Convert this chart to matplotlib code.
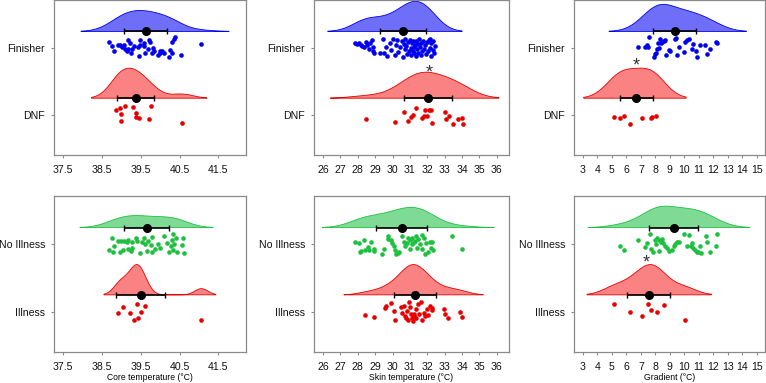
import numpy as np
import matplotlib.pyplot as plt

plt.rcParams['font.family'] = ['Liberation Sans', 'DejaVu Sans']

# ---- top row: Finisher vs DNF ----
core_fin = [38.68, 38.75, 38.81, 38.90, 38.96, 39.02, 39.07, 39.09, 39.13, 39.18, 39.18, 39.21,
            39.24, 39.28, 39.33, 39.42, 39.45, 39.47, 39.48, 39.57, 39.59, 39.61, 39.68, 39.70,
            39.74, 39.78, 39.82, 39.83, 39.95, 39.99, 40.00, 40.04, 40.09, 40.23, 40.26, 40.30,
            40.31, 40.35, 40.37, 40.54, 41.05]
core_fin_jit = [0.09, 0.03, -0.04, 0.04, 0.05, 0.01, 0.04, -0.02, -0.04, 0.12, -0.01, 0.07,
                -0.07, -0.01, 0.03, 0.02, -0.12, 0.12, 0.05, 0.08, 0.03, -0.07, -0.01, 0.12,
                0.09, -0.08, 0.00, -0.05, -0.10, -0.04, -0.07, -0.05, -0.08, -0.13, -0.03, -0.08,
                0.09, 0.13, 0.16, -0.10, 0.06]
core_dnf = [38.87, 38.96, 38.98, 39.09, 39.00, 39.30, 39.38, 39.38, 39.44, 39.70, 39.77, 40.56]
core_dnf_jit = [0.07, 0.11, 0.01, 0.13, -0.09, 0.12, 0.03, -0.03, -0.05, -0.06, 0.13, -0.12]

skin_fin = [27.83, 27.96, 28.08, 28.16, 28.27, 28.35, 28.50, 28.54, 28.65, 28.73, 28.79, 28.85,
            28.89, 28.96, 29.27,
            29.47, 29.52, 29.60, 29.68, 29.83, 29.90, 30.05, 30.12, 30.20, 30.27, 30.31, 30.40,
            30.52, 30.58, 30.63, 30.70, 30.74, 30.80, 30.85, 30.90, 30.96, 31.00, 31.04, 31.08,
            31.11, 31.15, 31.18, 31.22, 31.26, 31.30, 31.33, 31.37, 31.41, 31.44, 31.49, 31.53,
            31.58, 31.62, 31.66, 31.71, 31.75, 31.80, 31.86, 31.90, 31.96, 32.02, 32.08, 32.13,
            32.19, 32.24, 32.30, 32.35, 32.40, 32.44, 32.18]
skin_fin_jit = [0.07, 0.06, 0.08, 0.05, 0.03, 0.01, 0.09, 0.04, -0.01, 0.07, 0.12, -0.04,
                0.02, -0.08, -0.08,
                0.13, -0.07, 0.02, -0.12, 0.08, -0.03, 0.13, -0.10, 0.05, 0.12, -0.06, 0.01,
                0.10, -0.13, 0.06, -0.02, 0.13, 0.03, -0.09, 0.09, -0.04, 0.12, 0.00, -0.11,
                0.07, -0.05, 0.10, 0.02, -0.08, 0.05, -0.12, 0.11, -0.02, 0.06, -0.07, 0.13,
                0.01, -0.10, 0.08, -0.04, 0.11, -0.01, 0.05, -0.09, 0.09, -0.05, 0.12, 0.00,
                -0.12, 0.07, -0.03, 0.10, -0.08, 0.03, 0.13]
skin_dnf = [28.50, 30.14, 30.66, 30.91, 31.04, 31.19, 31.35, 31.67, 31.81, 31.87, 32.00, 32.08,
            32.19, 32.27, 33.02, 33.08, 33.23, 33.46, 33.79, 34.00, 34.04]
skin_dnf_jit = [-0.06, -0.10, 0.04, -0.09, -0.03, 0.00, 0.10, -0.04, -0.02, 0.08, -0.02, 0.08,
                0.08, -0.12, 0.05, -0.06, -0.02, -0.13, -0.06, -0.04, -0.14]

grad_fin = [6.81, 7.27, 7.43, 7.50, 7.57, 7.89, 7.99, 8.03, 8.08, 8.17, 8.22, 8.31, 8.40, 8.49,
            8.59, 8.68, 8.72, 8.96, 9.00, 9.33, 9.39, 9.46, 9.65, 9.97, 10.02, 10.16, 10.34,
            10.50, 10.62, 10.80, 10.85, 11.08, 11.45, 11.59, 11.77, 12.19, 12.28]
grad_fin_jit = [0.02, 0.02, 0.04, 0.01, 0.16, -0.13, -0.09, -0.08, -0.01, 0.07, 0.00, 0.13,
                0.07, 0.09, 0.11, 0.12, -0.10, -0.03, -0.04, 0.13, 0.15, -0.10, 0.02, -0.06,
                0.09, 0.12, 0.13, -0.01, 0.06, -0.04, -0.13, 0.05, 0.04, -0.09, -0.01, 0.09, 0.08]
grad_dnf = [5.12, 5.55, 5.82, 6.28, 7.11, 7.72, 7.80, 8.05]
grad_dnf_jit = [-0.03, -0.05, -0.02, -0.14, -0.04, -0.05, -0.03, -0.01]

# ---- bottom row: No Illness vs Illness ----
core_well = [38.75, 38.69, 38.79, 38.81, 38.92, 38.95, 38.98, 39.05, 39.07, 39.14, 39.17, 39.18,
             39.25, 39.27, 39.28, 39.37, 39.39, 39.48, 39.52, 39.58, 39.61, 39.65, 39.68, 39.76,
             39.78, 39.79, 39.87, 39.95, 40.00, 40.10, 40.17, 40.23, 40.30, 40.28, 40.32, 40.34,
             40.36, 40.40, 40.44, 40.55, 40.58, 40.60]
core_well_jit = [0.09, -0.08, -0.12, -0.02, 0.05, -0.11, 0.05, -0.08, 0.05, 0.03, 0.07, -0.07,
                 -0.10, 0.03, -0.05, 0.09, 0.05, -0.13, 0.03, 0.09, 0.01, -0.10, 0.05, -0.01,
                 -0.12, 0.11, -0.07, 0.01, -0.05, 0.12, 0.02, -0.12, 0.07, -0.02, -0.08, 0.15,
                 0.01, 0.09, -0.12, -0.01, 0.09, -0.13]
core_ill = [38.92, 39.03, 39.22, 39.32, 39.39, 39.43, 39.50, 39.60, 41.06]
core_ill_jit = [-0.02, 0.07, -0.02, -0.12, 0.12, -0.10, 0.00, 0.08, -0.12]

skin_well = [27.83, 28.06, 28.33, 28.10, 28.21, 28.44, 28.56, 28.64, 28.75, 28.91, 28.94, 29.37,
             29.48, 29.71, 29.75, 29.91, 29.94, 30.06, 30.14, 30.18, 30.33, 30.37, 30.52, 30.64,
             30.71, 30.83, 30.91, 30.98, 31.02, 31.10, 31.14, 31.21, 31.29, 31.33, 31.41, 31.48,
             31.60, 31.68, 31.71, 31.79, 31.87, 31.94, 32.06, 32.14, 32.21, 32.29, 32.33, 33.44,
             33.98]
skin_well_jit = [0.04, 0.02, 0.07, -0.11, -0.10, -0.08, -0.04, -0.09, 0.03, -0.07, -0.10, -0.14,
                 -0.07, 0.13, 0.08, 0.06, 0.02, -0.02, -0.08, -0.14, -0.13, -0.12, 0.12, 0.04,
                 -0.02, 0.02, 0.10, 0.06, -0.07, 0.09, 0.00, 0.03, 0.05, 0.13, -0.05, 0.08,
                 0.01, 0.14, -0.07, 0.09, -0.14, 0.02, -0.11, 0.03, -0.05, 0.04, -0.09, 0.13,
                 -0.07]
skin_ill = [28.44, 28.91, 29.56, 29.60, 29.91, 30.06, 30.14, 30.48, 30.56, 30.64, 30.71, 30.79,
            30.83, 30.91, 30.94, 31.02, 31.06, 31.10, 31.18, 31.21, 31.25, 31.33, 31.37, 31.44,
            31.52, 31.64, 31.68, 31.79, 31.87, 31.98, 32.06, 32.18, 32.25, 32.29, 32.98, 33.02,
            33.21, 33.87, 33.98]
skin_ill_jit = [-0.05, -0.08, 0.05, 0.08, 0.13, 0.01, -0.13, 0.07, -0.02, 0.09, -0.06, -0.09,
                0.01, -0.12, 0.14, 0.07, -0.04, -0.09, -0.14, -0.03, -0.06, -0.10, 0.04, 0.11,
                -0.04, 0.14, -0.13, -0.02, -0.07, 0.04, -0.05, 0.09, 0.02, 0.06, 0.04, -0.03,
                -0.10, 0.00, -0.08]

grad_well = [5.59, 5.82, 6.79, 7.25, 7.43, 7.62, 7.71, 7.85, 7.94, 8.03, 8.08, 8.22, 8.26, 8.36,
             8.45, 8.54, 8.63, 8.77, 8.91, 9.14, 9.28, 9.37, 9.46, 9.60, 9.97, 10.20, 10.30,
             10.43, 10.53, 10.62, 10.76, 10.85, 10.94, 11.08, 11.13, 11.50, 11.59, 11.77, 12.19,
             12.28]
grad_well_jit = [-0.02, -0.09, 0.07, -0.04, 0.02, 0.15, -0.07, -0.11, 0.07, 0.00, 0.09, -0.10,
                 0.07, 0.03, 0.08, 0.02, -0.02, -0.06, -0.10, -0.08, -0.02, 0.01, 0.03, 0.04,
                 0.15, -0.02, 0.14, -0.02, 0.02, -0.05, -0.08, -0.12, -0.11, -0.03, -0.13, 0.13,
                 0.03, -0.12, -0.03, 0.15]
grad_ill = [5.12, 6.28, 7.06, 7.50, 7.73, 8.08, 8.61, 10.04]
grad_ill_jit = [0.12, -0.01, -0.07, 0.12, 0.02, 0.00, 0.10, -0.13]

core_ticks = [37.5, 38.5, 39.5, 40.5, 41.5]
skin_ticks = list(range(26, 37))
grad_ticks = list(range(3, 16))

# significance stars (x, y)
skin_top_star = (32.1, 1.69)
grad_top_star = (6.70, 1.80)
grad_bot_star = (7.38, 1.78)

BLUE, RED, GREEN = '#0000f0', '#e60000', '#1ec040'
BLUE_F, RED_F, GREEN_F = '#6e6ef8', '#fa8282', '#7fda96'


def nrd0(x):
    sd = np.std(x, ddof=1)
    iqr = np.percentile(x, 75) - np.percentile(x, 25)
    return 0.9 * min(sd, iqr / 1.34) * len(x) ** -0.2


def kde(x, adjust=1.4, cut=2.2):
    x = np.asarray(x)
    bw = nrd0(x) * adjust
    grid = np.linspace(x.min() - cut * bw, x.max() + cut * bw, 512)
    d = np.exp(-0.5 * ((grid[:, None] - x[None, :]) / bw) ** 2).sum(1)
    return grid, d / (len(x) * bw * np.sqrt(2 * np.pi))


def rain(ax, groups):
    dens = [kde(g[0]) for g in groups]
    top = max(d.max() for _, d in dens)
    for pos, (vals, jit, col, fill), (g, d) in zip([2, 1], groups, dens):
        base = pos + 0.25
        h = base + d / top * 0.45
        ax.fill(np.r_[g, g[::-1]], np.r_[h, np.full(len(g), base)],
                facecolor=fill, edgecolor=col, lw=0.6, zorder=1)
        ax.scatter(vals, pos + np.array(jit), s=11, color=col, lw=0, zorder=2)
        m, s = np.mean(vals), np.std(vals, ddof=1)
        ax.errorbar(m, base, xerr=s, fmt='o', color='black', ms=5.5, lw=1.2,
                    capsize=2.2, capthick=1, zorder=3)


def star(ax, xy):
    ax.annotate('*', xy, xytext=(0, -3), textcoords='offset points', fontsize=13,
                ha='center', va='center', color='#333333')


def style(ax, ticks, labels, xlim):
    ax.set_xlim(*xlim)
    ax.set_ylim(0.4, 2.72)
    ax.set_xticks(ticks)
    ax.set_xticklabels([f'{t:g}' for t in ticks])
    ax.set_yticks([1, 2])
    ax.set_yticklabels(labels)
    for sp in ax.spines.values():
        sp.set_color('#8a8a8a')
        sp.set_linewidth(0.9)
    ax.tick_params(axis='both', length=2.5, width=0.8, color='#8a8a8a',
                   labelsize=7.6, labelcolor='#111111')
    ax.tick_params(axis='x', pad=5)
    ax.tick_params(axis='y', pad=4)


fig = plt.figure(figsize=(7.66, 3.83), dpi=100)
lefts = [54 / 766, 314 / 766, 574 / 766]
widths = [192 / 766, 195 / 766, 191 / 766]
top_b, top_h = 1 - 155 / 383, 155 / 383
bot_b, bot_h = 1 - 352 / 383, 156 / 383

xlims = [(37.26, 42.21), (25.48, 36.7), (2.38, 15.57)]
ticks = [core_ticks, skin_ticks, grad_ticks]
top_data = [(core_fin, core_fin_jit, core_dnf, core_dnf_jit),
            (skin_fin, skin_fin_jit, skin_dnf, skin_dnf_jit),
            (grad_fin, grad_fin_jit, grad_dnf, grad_dnf_jit)]
bot_data = [(core_well, core_well_jit, core_ill, core_ill_jit),
            (skin_well, skin_well_jit, skin_ill, skin_ill_jit),
            (grad_well, grad_well_jit, grad_ill, grad_ill_jit)]
xlabels = ['Core temperature (\u00b0C)', 'Skin temperature (\u00b0C)', 'Gradient (\u00b0C)']

for i in range(3):
    ax = fig.add_axes([lefts[i], top_b, widths[i], top_h])
    a, aj, b, bj = top_data[i]
    rain(ax, [(a, aj, BLUE, BLUE_F), (b, bj, RED, RED_F)])
    style(ax, ticks[i], ['DNF', 'Finisher'], xlims[i])
    if i == 1:
        star(ax, skin_top_star)
    if i == 2:
        star(ax, grad_top_star)

    ax = fig.add_axes([lefts[i], bot_b, widths[i], bot_h])
    a, aj, b, bj = bot_data[i]
    rain(ax, [(a, aj, GREEN, GREEN_F), (b, bj, RED, RED_F)])
    style(ax, ticks[i], ['Illness', 'No Illness'], xlims[i])
    ax.set_xlabel(xlabels[i], fontsize=6.2, labelpad=0.5)
    if i == 2:
        star(ax, grad_bot_star)

fig.savefig('out.png', dpi=100)
